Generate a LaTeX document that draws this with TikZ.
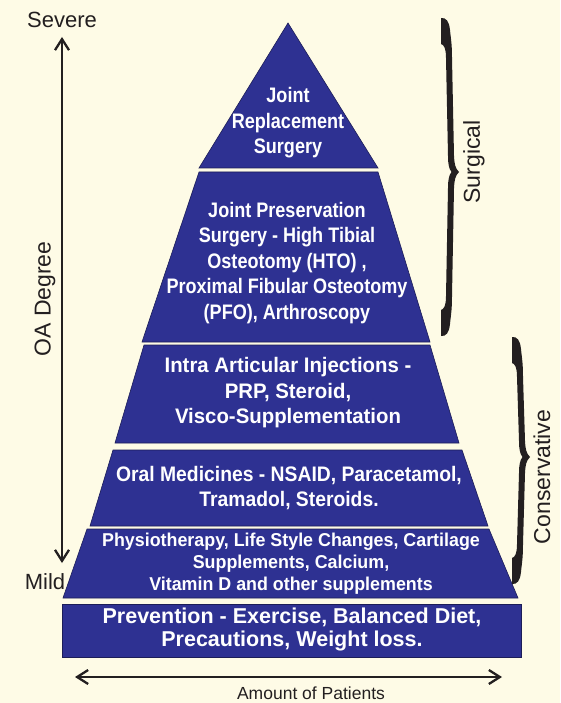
\documentclass[tikz,border=0pt]{standalone}
\usepackage{fontspec}
\setmainfont{Liberation Sans}
\usetikzlibrary{arrows.meta}
\definecolor{bg}{HTML}{FEFBE6}
\definecolor{pblue}{HTML}{2E3192}
\definecolor{ink}{HTML}{231F20}
% calligraphic brace: #1 = left x of ends, #2 = top y, #3 = middle y, #4 = bottom y
\newcommand\calbrace[4]{%
 \fill[ink] (#1,#2) .. controls (#1+5,#2-0.5) and (#1+8,#2+3) .. (#1+9,#2+12)
   .. controls (#1+10,#2+22) and (#1+11,#2+26) .. (#1+11,#2+40)
   -- (#1+13,#3-16) .. controls (#1+13.5,#3-8) and (#1+14,#3-4) .. (#1+18,#3)
   .. controls (#1+14,#3+4) and (#1+13.5,#3+8) .. (#1+13,#3+16)
   -- (#1+11,#4-40) .. controls (#1+11,#4-26) and (#1+10,#4-22) .. (#1+9,#4-12)
   .. controls (#1+8,#4-3) and (#1+5,#4+0.5) .. (#1,#4)
   -- (#1,#4-26) .. controls (#1+3,#4-27) and (#1+5,#4-30) .. (#1+5,#4-40)
   -- (#1+7,#3+16) .. controls (#1+7,#3+8) and (#1+8,#3+3) .. (#1+10.5,#3)
   .. controls (#1+8,#3-3) and (#1+7,#3-8) .. (#1+7,#3-16)
   -- (#1+5,#2+40) .. controls (#1+5,#2+30) and (#1+3,#2+27) .. (#1,#2+26) -- cycle;}
\begin{document}
\begin{tikzpicture}[x=1pt,y=-1pt,
  layer/.style={fill=pblue, draw=pblue!60!black, line width=0.6pt},
  ltext/.style={text=white, align=center, inner sep=0pt, font=\bfseries\fontsize{21}{25.5}\selectfont},
  side/.style={text=ink, inner sep=0pt, font=\fontsize{22}{26}\selectfont},
  axisarrow/.style={draw=ink, line width=2.3pt, {Straight Barb[length=11pt,width=14pt]}-{Straight Barb[length=11pt,width=14pt]}}
]
\fill[bg] (0,0) rectangle (560,703);
\useasboundingbox (0,0) rectangle (560,703);

% pyramid layers
\path[layer] (288,23) -- (378,168) -- (199,168) -- cycle;
\path[layer] (199,172) -- (378,172) -- (430,342) -- (142,342) -- cycle;
\path[layer] (144,345) -- (430,345) -- (459,443) -- (115,443) -- cycle;
\path[layer] (113,450) -- (462,450) -- (488,526) -- (90,526) -- cycle;
\path[layer] (87,529) -- (489,529) -- (518,598) -- (63,598) -- cycle;
\path[layer] (62,604) rectangle (521,657);

% layer texts
\node[ltext, xscale=.86] (l1) at (288,123) {Joint\\Replacement\\Surgery};
\node[ltext, xscale=.86] (l2) at (287,263) {Joint Preservation\\Surgery - High Tibial\\Osteotomy (HTO) ,\\Proximal Fibular Osteotomy\\(PFO), Arthroscopy};
\node[ltext, xscale=.97] (l3) at (288,393) {Intra Articular Injections -\\PRP, Steroid,\\Visco-Supplementation};
\node[ltext, xscale=.92] (l4) at (289,488) {Oral Medicines - NSAID, Paracetamol,\\Tramadol, Steroids.};
\node[ltext, xscale=.96, font=\bfseries\fontsize{18.6}{22}\selectfont] (l5) at (291,564) {Physiotherapy, Life Style Changes, Cartilage\\Supplements, Calcium,\\Vitamin D and other supplements};
\node[ltext, font=\bfseries\fontsize{21.5}{23}\selectfont] (l6) at (292,629) {Prevention - Exercise, Balanced Diet,\\Precautions, Weight loss.};

% OA degree axis
\node[side] (sev) at (62,20) {Severe};
\node[side] (mild) at (45,582) {Mild};
\coordinate (atop) at (62,37);
\coordinate (abot) at (62,563);
\draw[axisarrow] (atop) -- (abot);
\node[side, rotate=90, font=\fontsize{23}{27}\selectfont] (oa) at (45,299) {OA Degree};

% amount of patients
\coordinate (pl) at (75,677);
\coordinate (pr) at (502,677);
\draw[axisarrow] (pl) -- (pr);
\node[side, font=\fontsize{17.5}{20}\selectfont] (amt) at (311,693) {Amount of Patients};

% braces
\calbrace{441}{18}{172}{336}
\node[side, rotate=90, font=\fontsize{23}{27}\selectfont] (surg) at (474,162) {Surgical};
\calbrace{512}{337}{457}{584}
\node[side, rotate=90, font=\fontsize{23}{27}\selectfont] (cons) at (542,477) {Conservative};
\end{tikzpicture}
\end{document}
